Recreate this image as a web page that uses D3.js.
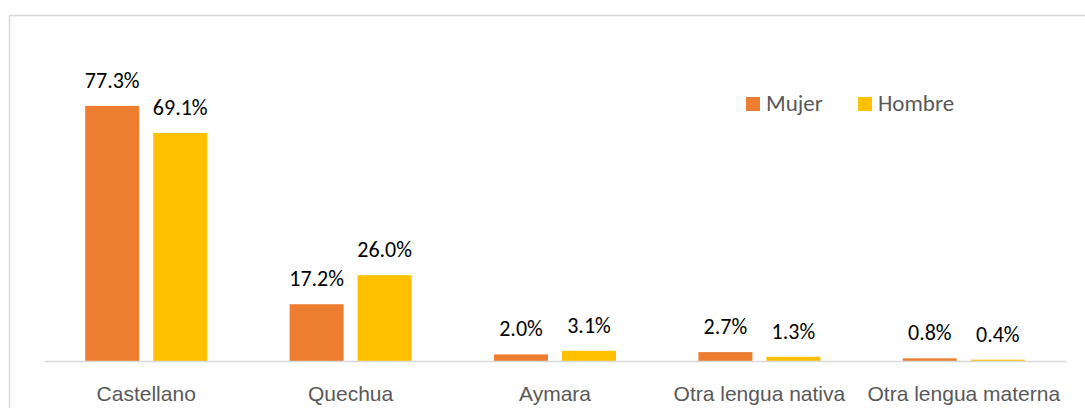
<!DOCTYPE html>
<html>
<head>
<meta charset="utf-8">
<script src="https://cdn.jsdelivr.net/npm/d3@7"></script>
<style>
  body { margin: 0; background: #fff; }
  svg { display: block; font-family: Carlito, Lato, "Open Sans", sans-serif; }
</style>
</head>
<body>
<div id="chart"></div>
<script>
// lenguas maternas por sexo
var categories = ["Castellano", "Quechua", "Aymara", "Otra lengua nativa", "Otra lengua materna"];
var seriesNames = ["Mujer", "Hombre"];
var mujer = [77.3, 17.2, 2.0, 2.7, 0.8];
var hombre = [69.1, 26.0, 3.1, 1.3, 0.4];
var colors = ["#ED7D31", "#FFC000"];

var W = 1085, H = 408;
var plot = { left: 44, right: 1066, top: 64, bottom: 361 };
var groupWidth = 122; // two bars plus the gap between them

var rows = categories.map(function(c, i) {
  return { cat: c, values: [mujer[i], hombre[i]] };
});

var svg = d3.select("#chart").append("svg")
  .attr("width", W)
  .attr("height", H);

// chart frame
svg.append("rect")
  .attr("x", 9.5).attr("y", 15.5)
  .attr("width", W + 20).attr("height", H + 20)
  .attr("fill", "none")
  .attr("stroke", "#d9d9d9")
  .attr("stroke-width", 1.5);

var x0 = d3.scaleBand()
  .domain(categories)
  .range([plot.left, plot.right]);

var bw = x0.bandwidth();
var x1 = d3.scaleBand()
  .domain(seriesNames)
  .range([(bw - groupWidth) / 2, (bw + groupWidth) / 2])
  .paddingInner(14 / 68);

var y = d3.scaleLinear()
  .domain([0, 90])
  .range([plot.bottom, plot.top]);

var groups = svg.selectAll("g.cat")
  .data(rows)
  .enter().append("g")
  .attr("class", "cat")
  .attr("transform", function(d) { return "translate(" + x0(d.cat) + ",0)"; });

var bars = groups.selectAll("g.bar")
  .data(function(d) { return d.values.map(function(v, j) { return { s: seriesNames[j], v: v, j: j }; }); })
  .enter().append("g");

bars.append("rect")
  .attr("x", function(d) { return x1(d.s); })
  .attr("y", function(d) { return y(d.v); })
  .attr("width", x1.bandwidth())
  .attr("height", function(d) { return plot.bottom - y(d.v); })
  .attr("fill", function(d) { return colors[d.j]; });

bars.append("text")
  .attr("x", function(d) { return x1(d.s) + x1.bandwidth() / 2; })
  .attr("y", function(d) { return y(d.v) - 18; })
  .attr("text-anchor", "middle")
  .attr("font-size", 22)
  .attr("fill", "#000")
  .text(function(d) { return d.v.toFixed(1) + "%"; });

// x axis
var xAxis = d3.axisBottom(x0).tickSize(0).tickPadding(25);
var gx = svg.append("g")
  .attr("transform", "translate(0," + plot.bottom + ")")
  .call(xAxis);
gx.select(".domain").attr("stroke", "#d9d9d9").attr("stroke-width", 1.5);
gx.selectAll("text")
  .attr("font-size", 21)
  .attr("fill", "#595959")
  .attr("font-family", null);

// legend
var legendX = [746, 858];
var legend = svg.selectAll("g.legend")
  .data(seriesNames)
  .enter().append("g")
  .attr("transform", function(d, i) { return "translate(" + legendX[i] + ",97)"; });
legend.append("rect")
  .attr("width", 14).attr("height", 14)
  .attr("fill", function(d, i) { return colors[i]; });
legend.append("text")
  .attr("x", 20).attr("y", 14)
  .attr("font-size", 23)
  .attr("fill", "#595959")
  .text(function(d) { return d; });
</script>
</body>
</html>
